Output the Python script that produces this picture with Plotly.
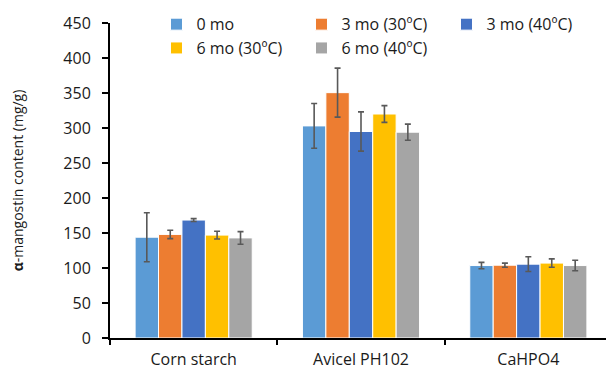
import plotly.graph_objects as go

categories = ["Corn starch", "Avicel PH102", "CaHPO4"]
series_names = ["0 mo", "3 mo (30ºC)", "3 mo (40ºC)", "6 mo (30ºC)", "6 mo (40ºC)"]
colors = ["#5B9BD5", "#ED7D31", "#4472C4", "#FFC000", "#A5A5A5"]

v_0mo = [144, 303, 103.5]
v_3mo30 = [148, 350.5, 104]
v_3mo40 = [168.5, 295, 105.5]
v_6mo30 = [147, 320, 107]
v_6mo40 = [143, 294, 103.5]

e_0mo = [35, 32, 4.5]
e_3mo30 = [6, 35, 3]
e_3mo40 = [2, 28, 10.5]
e_6mo30 = [5.5, 12, 6]
e_6mo40 = [9, 11.5, 7.5]

values = [v_0mo, v_3mo30, v_3mo40, v_6mo30, v_6mo40]
errors = [e_0mo, e_3mo30, e_3mo40, e_6mo30, e_6mo40]

font_family = "'Open Sans', sans-serif"
txt = "#1a1a1a"

fig = go.Figure()
for name, col, v, e in zip(series_names, colors, values, errors):
    fig.add_trace(go.Bar(
        x=categories, y=v, name=name,
        marker=dict(color=col, line=dict(color="white", width=1)),
        error_y=dict(type="data", array=e, visible=True, color="#595959",
                     thickness=1.6, width=3),
    ))

fig.update_layout(
    width=606, height=363,
    margin=dict(l=102, r=2, t=15, b=33, autoexpand=False),
    paper_bgcolor="white", plot_bgcolor="white",
    barmode="group", bargap=0.3, bargroupgap=0,
    font=dict(family=font_family, size=16, color=txt),
    showlegend=True,
    legend=dict(orientation="h", x=0.0926, y=1.05, xanchor="left", yanchor="top",
                entrywidth=100, entrywidthmode="pixels", itemwidth=30,
                font=dict(size=16, color=txt),
                bgcolor="rgba(0,0,0,0)", tracegroupgap=0),
    xaxis=dict(showline=True, linecolor="black", linewidth=2,
               ticks="outside", tickson="boundaries", ticklen=5, tickwidth=2,
               tickcolor="black", showgrid=False, automargin=False,
               ticklabelstandoff=6,
               tickfont=dict(size=16, color=txt)),
    yaxis=dict(range=[0, 450], dtick=50, showline=True, linecolor="black",
               linewidth=2, ticks="outside", ticklen=6, tickwidth=2,
               tickcolor="black", showgrid=False, zeroline=False,
               automargin=False, ticklabelstandoff=8,
               tickfont=dict(size=16, color=txt),
               title=dict(text="<b>α</b>-mangostin content (mg/g)",
                          font=dict(size=14, color=txt), standoff=37)),
)

fig.write_html("out.html")
